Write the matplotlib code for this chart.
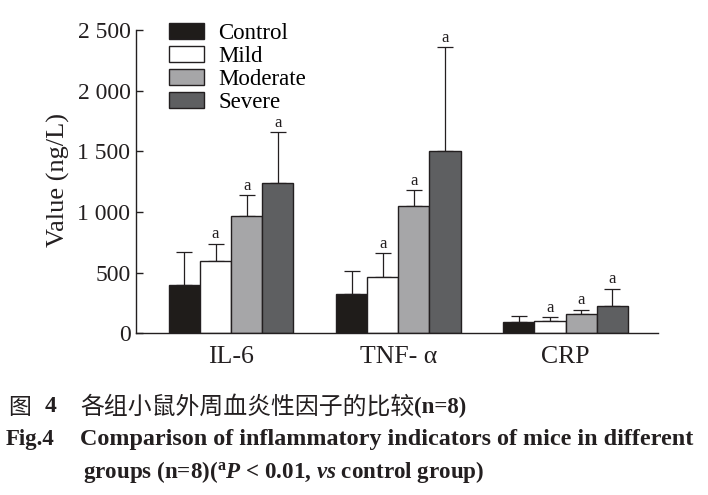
import numpy as np
import matplotlib
matplotlib.use('Agg')
import matplotlib.pyplot as plt

# data (mean and upper SD, ng/L)
categorias = ['IL-6', 'TNF- α', 'CRP']
grupos = ['Control', 'Mild', 'Moderate', 'Severe']
control = [398, 324, 93]
control_sd = [273, 190, 50]
mild = [594, 465, 101]
mild_sd = [143, 195, 33]
moderate = [965, 1048, 154]
moderate_sd = [174, 134, 38]
severe = [1238, 1507, 220]
severe_sd = [418, 855, 146]
marca = ['', 'a', 'a', 'a']  # aP < 0.01 vs control
yticks = [0, 500, 1000, 1500, 2000, 2500]
ytick_labels = ['0', '500', '1 000', '1 500', '2 000', '2 500']

cores = ['#1f1c1a', '#ffffff', '#a6a6a8', '#5e5f61']
tinta = '#231f20'

plt.rcParams['font.family'] = ['Liberation Serif', 'DejaVu Serif']
plt.rcParams['mathtext.fontset'] = 'custom'
plt.rcParams['mathtext.rm'] = 'Liberation Serif:bold'
plt.rcParams['mathtext.it'] = 'Liberation Serif:bold:italic'

fig = plt.figure(figsize=(7.08, 4.95), dpi=100)
ax = fig.add_axes([0.192, 0.327, 0.737, 0.612])

x = np.arange(len(categorias))
w = 0.186
medias = [control, mild, moderate, severe]
sds = [control_sd, mild_sd, moderate_sd, severe_sd]
for i in range(4):
    pos = x + (i - 1.5) * w
    ax.bar(pos, medias[i], w, color=cores[i], edgecolor=tinta, linewidth=1.0,
           label=grupos[i], zorder=2)
    ax.errorbar(pos, medias[i], yerr=[np.zeros(3), sds[i]], fmt='none',
                ecolor=tinta, elinewidth=0.9, capsize=5.5, capthick=0.9, zorder=1)
    if marca[i]:
        for p, m, s in zip(pos, medias[i], sds[i]):
            ax.annotate(marca[i], (p, m + s), xytext=(0, 1), textcoords='offset points',
                        ha='center', va='bottom', fontsize=12, color=tinta)

ax.set_xlim(-0.569, 2.551)
ax.set_ylim(0, 2500)
ax.set_xticks(x)
ax.set_xticklabels(categorias, fontsize=18.5, color=tinta)
ax.set_yticks(yticks)
ax.set_yticklabels(ytick_labels, fontsize=17, color=tinta)
ax.tick_params(axis='x', length=0, pad=9)
ax.tick_params(axis='y', direction='in', length=5, width=1.0, color=tinta, pad=4)
for lado in ['top', 'right']:
    ax.spines[lado].set_visible(False)
for lado in ['left', 'bottom']:
    ax.spines[lado].set_color(tinta)
    ax.spines[lado].set_linewidth(1.0)
ax.set_ylabel('Value (ng/L)', fontsize=19, color=tinta)
ax.yaxis.set_label_coords(-0.127, 0.505)

ax.legend(loc='upper left', bbox_to_anchor=(0.063, 1.025), frameon=False,
          fontsize=16.5, handlelength=1.52, handleheight=0.72, handletextpad=0.65,
          labelspacing=0.08, borderpad=0, borderaxespad=0)

# legenda da figura (caption)
fig.text(8 / 708, 1 - 407 / 495, '图', family='Noto Sans CJK SC', fontsize=16.5,
         weight='medium', va='center', color=tinta)
fig.text(45 / 708, 1 - 407 / 495, '4', fontsize=17, weight='bold', va='center', color=tinta)
t_cn = fig.text(80 / 708, 1 - 407 / 495, '各组小鼠外周血炎性因子的比较', family='Noto Sans CJK SC',
                fontsize=17.2, weight='medium', va='center', color=tinta)
fig.canvas.draw()
bb = t_cn.get_window_extent(fig.canvas.get_renderer())
fig.text(bb.x1 / fig.bbox.width, 1 - 407 / 495, '(n=8)', fontsize=16.5, weight='bold',
         va='center', color=tinta)

fig.text(6 / 708, 1 - 440 / 495, 'Fig.4', fontsize=16.5, weight='bold', va='center', color=tinta)
fig.text(80 / 708, 1 - 440 / 495, 'Comparison of inflammatory indicators of mice in different',
         fontsize=17.4, weight='bold', va='center', color=tinta)
fig.text(83 / 708, 1 - 472 / 495,
         r'groups (n=8)($^{\mathrm{a}}$$\mathit{P}$ < 0.01, $\mathit{vs}$ control group)',
         fontsize=16.6, weight='bold', va='center', color=tinta)

plt.savefig('out.png', dpi=100)
